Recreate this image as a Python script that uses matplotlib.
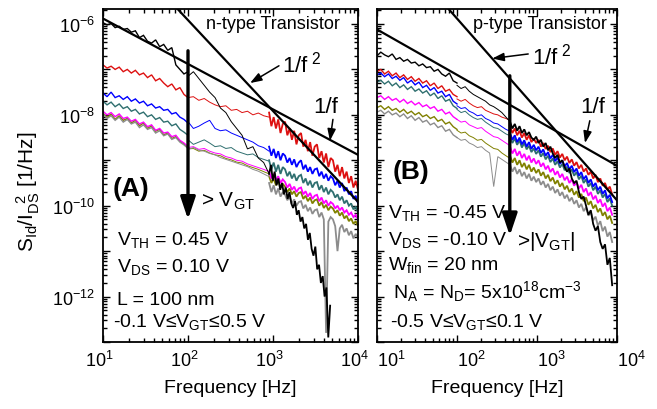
import numpy as np
import matplotlib
matplotlib.use('Agg')
import matplotlib.pyplot as plt
from matplotlib.ticker import LogLocator, FixedLocator, FuncFormatter, NullFormatter
from matplotlib.transforms import ScaledTranslation

plt.rcParams['font.family'] = ['Liberation Sans', 'DejaVu Sans']
plt.rcParams['mathtext.fontset'] = 'custom'
plt.rcParams['mathtext.rm'] = 'Liberation Sans'
plt.rcParams['mathtext.it'] = 'Liberation Sans:italic'
plt.rcParams['mathtext.bf'] = 'Liberation Sans:bold'
plt.rcParams['mathtext.default'] = 'regular'

# ---------------- data (log10 of S_Id/I_DS^2) ----------------
# frequency ranges of the three measured segments [Hz]
A_LO, A_MID, A_HI, A_HI_BLACK = (10, 100), (100, 900), (900, 10000), (900, 4700)
B_LO, B_MID, B_HI = (10, 100), (100, 460), (460, 8700)

colors = {'black': '#000000', 'red': '#dd1010', 'blue': '#0000ff', 'teal': '#2f6f6f',
          'magenta': '#ff00ff', 'olive': '#808000', 'gray': '#8c8c8c'}

# ---- panel A (n-type) ----
a_black_lo = [-5.97, -6.02, -5.99, -6.08, -6.05, -6.12, -6.10, -6.18, -6.15, -6.30, -6.25, -6.38, -6.42, -6.35, -6.50, -6.45, -6.58, -6.52, -6.90, -7.00, -7.10, -7.05]
a_black_mid = [-7.15, -7.05, -7.20, -7.35, -7.50, -7.62, -7.85, -7.95, -8.15, -8.30, -8.45, -8.75, -8.70, -8.95, -9.05, -9.30]
a_black_hi = [-9.30, -9.10, -9.45, -9.25, -9.55, -9.40, -9.65, -9.50, -9.75, -9.60, -9.85, -9.70, -9.95, -10.05, -9.90, -10.20, -10.10, -10.35, -10.25, -10.50, -10.40, -10.75, -10.60, -10.95, -11.10, -10.90, -11.40, -11.30, -11.70, -11.55, -12.00, -11.80, -12.90, -12.20]

a_red_lo = [-6.90, -6.97, -6.93, -7.00, -6.95, -7.05, -7.00, -7.08, -7.02, -7.12, -7.08, -7.18, -7.12, -7.25, -7.20, -7.30, -7.38, -7.32, -7.45, -7.40, -7.55, -7.62]
a_red_mid = [-7.62, -7.60, -7.68, -7.64, -7.72, -7.78, -7.82, -7.80, -7.90, -7.88, -7.95, -7.92, -8.00, -7.96, -8.02, -8.05]
a_red_hi = [-7.95, -8.25, -8.05, -8.30, -8.10, -8.40, -8.20, -8.15, -8.45, -8.30, -8.55, -8.35, -8.65, -8.45, -8.40, -8.70, -8.55, -8.80, -8.60, -8.90, -8.70, -8.65, -8.95, -8.80, -9.05, -8.85, -9.15, -8.95, -9.00, -9.25, -9.10, -9.35, -9.15, -9.40, -9.25, -9.50, -9.35, -9.60, -9.45, -9.65]

a_blue_lo = [-7.52, -7.60, -7.50, -7.62, -7.58, -7.66, -7.60, -7.70, -7.65, -7.74, -7.70, -7.80, -7.76, -7.85, -7.82, -7.90, -7.88, -7.98, -7.95, -8.05, -8.10, -8.18]
a_blue_mid = [-8.15, -8.30, -8.25, -8.18, -8.12, -8.30, -8.35, -8.33, -8.40, -8.45, -8.50, -8.55, -8.60, -8.68, -8.72, -8.80]
a_blue_hi = [-8.70, -8.90, -8.75, -8.95, -8.80, -9.00, -8.85, -8.90, -9.05, -8.95, -9.10, -8.98, -9.15, -9.05, -9.00, -9.20, -9.10, -9.25, -9.15, -9.30, -9.20, -9.18, -9.35, -9.25, -9.40, -9.30, -9.45, -9.35, -9.40, -9.55, -9.45, -9.60, -9.50, -9.68, -9.60, -9.75, -9.68, -9.85, -9.78, -9.95]

a_teal_lo = [-7.70, -7.78, -7.72, -7.82, -7.76, -7.86, -7.82, -7.92, -7.88, -7.98, -7.94, -8.04, -8.00, -8.10, -8.06, -8.16, -8.14, -8.24, -8.20, -8.32, -8.38, -8.45]
a_teal_mid = [-8.55, -8.65, -8.60, -8.55, -8.62, -8.70, -8.68, -8.74, -8.72, -8.80, -8.84, -8.88, -8.86, -8.94, -8.98, -9.02]
a_teal_hi = [-9.00, -9.20, -9.05, -9.25, -9.10, -9.30, -9.15, -9.20, -9.35, -9.25, -9.40, -9.30, -9.45, -9.35, -9.32, -9.50, -9.40, -9.55, -9.45, -9.60, -9.50, -9.48, -9.65, -9.55, -9.70, -9.60, -9.75, -9.65, -9.70, -9.82, -9.75, -9.88, -9.80, -9.95, -9.88, -10.00, -9.95, -10.08, -10.02, -10.15]

a_magenta_lo = [-7.92, -8.00, -7.95, -8.04, -7.98, -8.08, -8.05, -8.14, -8.10, -8.20, -8.16, -8.26, -8.22, -8.34, -8.30, -8.40, -8.38, -8.48, -8.45, -8.56, -8.62, -8.70]
a_magenta_mid = [-8.72, -8.70, -8.76, -8.74, -8.80, -8.84, -8.86, -8.92, -8.95, -9.00, -9.02, -9.08, -9.12, -9.16, -9.20, -9.25]
a_magenta_hi = [-9.25, -9.40, -9.30, -9.45, -9.35, -9.50, -9.42, -9.48, -9.60, -9.52, -9.65, -9.58, -9.70, -9.62, -9.60, -9.75, -9.68, -9.80, -9.72, -9.85, -9.78, -9.76, -9.90, -9.82, -9.95, -9.88, -10.00, -9.92, -9.96, -10.06, -10.00, -10.10, -10.04, -10.15, -10.10, -10.20, -10.15, -10.25, -10.20, -10.30]

a_olive_lo = [-7.96, -8.06, -7.98, -8.10, -8.02, -8.12, -8.08, -8.18, -8.12, -8.24, -8.18, -8.30, -8.24, -8.36, -8.32, -8.44, -8.40, -8.52, -8.48, -8.58, -8.64, -8.72]
a_olive_mid = [-8.75, -8.74, -8.80, -8.78, -8.84, -8.88, -8.90, -8.96, -8.99, -9.04, -9.06, -9.12, -9.16, -9.20, -9.25, -9.30]
a_olive_hi = [-9.35, -9.50, -9.40, -9.55, -9.45, -9.60, -9.52, -9.58, -9.70, -9.62, -9.75, -9.68, -9.80, -9.72, -9.70, -9.85, -9.78, -9.90, -9.82, -9.95, -9.88, -9.86, -10.00, -9.92, -10.05, -9.98, -10.10, -10.02, -10.06, -10.16, -10.10, -10.22, -10.15, -10.28, -10.22, -10.34, -10.28, -10.40, -10.34, -10.45]

a_gray_lo = [-7.98, -8.08, -8.02, -8.12, -8.05, -8.16, -8.10, -8.20, -8.16, -8.28, -8.22, -8.32, -8.28, -8.40, -8.35, -8.46, -8.42, -8.54, -8.50, -8.60, -8.66, -8.74]
a_gray_mid = [-8.76, -8.72, -8.78, -8.80, -8.85, -8.88, -8.94, -8.98, -9.02, -9.06, -9.10, -9.14, -9.20, -9.24, -9.30, -9.36]
a_gray_hi = [-9.50, -9.70, -9.55, -9.75, -9.62, -9.80, -9.70, -9.76, -9.88, -9.80, -9.95, -9.86, -10.00, -9.92, -9.90, -10.06, -9.98, -10.12, -10.04, -10.18, -10.10, -10.08, -10.25, -10.15, -10.30, -12.80, -10.35, -10.25, -10.30, -10.45, -11.00, -10.50, -10.42, -10.58, -10.50, -10.65, -10.56, -10.72, -10.62, -10.70]

# ---- panel B (p-type) ----
b_black_lo = [-6.70, -6.62, -6.68, -6.72, -6.66, -6.78, -6.74, -6.82, -6.78, -6.86, -6.84, -6.92, -6.88, -6.96, -6.94, -7.04, -7.00, -7.10, -7.15, -7.08, -7.25, -7.30]
b_black_mid = [-7.35, -7.42, -7.38, -7.48, -7.55, -7.60, -7.65, -7.70, -7.78, -7.82, -7.88, -7.95, -8.05, -8.15]
b_black_hi = [-8.15, -8.30, -8.20, -8.35, -8.25, -8.40, -8.32, -8.45, -8.38, -8.50, -8.55, -8.48, -8.62, -8.55, -8.70, -8.62, -8.78, -8.70, -8.85, -8.95, -8.88, -9.05, -9.00, -9.15, -9.25, -9.18, -9.40, -9.50, -9.45, -9.70, -9.85, -9.80, -10.00, -10.20, -10.10, -10.40, -10.55, -10.45, -10.80, -10.95, -10.85, -11.30, -11.15, -11.75]

b_red_lo = [-7.05, -7.00, -7.10, -7.04, -7.14, -7.08, -7.18, -7.12, -7.22, -7.16, -7.26, -7.20, -7.30, -7.25, -7.36, -7.30, -7.42, -7.36, -7.48, -7.44, -7.55, -7.60]
b_red_mid = [-7.65, -7.70, -7.66, -7.74, -7.80, -7.84, -7.82, -7.90, -7.94, -7.98, -8.00, -8.05, -8.08, -8.12]
b_red_hi = [-8.25, -8.40, -8.30, -8.45, -8.35, -8.50, -8.40, -8.55, -8.45, -8.60, -8.52, -8.62, -8.55, -8.70, -8.62, -8.75, -8.68, -8.82, -8.74, -8.88, -8.80, -8.94, -8.86, -9.00, -8.92, -9.06, -8.98, -9.12, -9.04, -9.18, -9.10, -9.25, -9.18, -9.32, -9.25, -9.40, -9.32, -9.48, -9.40, -9.56, -9.50, -9.65, -9.58, -9.75]

b_blue_lo = [-7.12, -7.08, -7.16, -7.10, -7.20, -7.15, -7.24, -7.18, -7.30, -7.24, -7.34, -7.28, -7.40, -7.35, -7.46, -7.40, -7.52, -7.48, -7.60, -7.55, -7.70, -7.76]
b_blue_mid = [-7.80, -7.86, -7.84, -7.92, -7.96, -8.02, -8.00, -8.08, -8.12, -8.18, -8.20, -8.26, -8.32, -8.36]
b_blue_hi = [-8.40, -8.55, -8.45, -8.60, -8.50, -8.65, -8.56, -8.70, -8.60, -8.75, -8.66, -8.78, -8.70, -8.84, -8.76, -8.90, -8.82, -8.96, -8.88, -9.02, -8.94, -9.08, -9.00, -9.14, -9.06, -9.20, -9.12, -9.26, -9.18, -9.34, -9.26, -9.42, -9.34, -9.50, -9.42, -9.58, -9.50, -9.66, -9.58, -9.74, -9.66, -9.84, -9.76, -9.92]

b_teal_lo = [-7.28, -7.24, -7.32, -7.26, -7.36, -7.30, -7.40, -7.34, -7.44, -7.38, -7.48, -7.43, -7.52, -7.47, -7.58, -7.52, -7.64, -7.58, -7.70, -7.66, -7.80, -7.86]
b_teal_mid = [-7.88, -7.95, -7.92, -8.00, -8.06, -8.10, -8.08, -8.16, -8.22, -8.28, -8.30, -8.36, -8.42, -8.46]
b_teal_hi = [-8.48, -8.62, -8.52, -8.66, -8.56, -8.72, -8.62, -8.76, -8.68, -8.82, -8.74, -8.86, -8.78, -8.92, -8.84, -8.98, -8.90, -9.04, -8.96, -9.10, -9.02, -9.16, -9.08, -9.22, -9.14, -9.28, -9.20, -9.34, -9.26, -9.42, -9.34, -9.50, -9.42, -9.58, -9.50, -9.66, -9.58, -9.74, -9.66, -9.82, -9.74, -9.92, -9.84, -10.00]

b_magenta_lo = [-7.62, -7.58, -7.66, -7.60, -7.68, -7.64, -7.72, -7.66, -7.75, -7.70, -7.78, -7.73, -7.82, -7.78, -7.86, -7.82, -7.92, -7.88, -7.98, -7.94, -8.04, -8.10]
b_magenta_mid = [-8.10, -8.16, -8.14, -8.22, -8.26, -8.30, -8.28, -8.36, -8.42, -8.48, -8.50, -8.56, -8.62, -8.68]
b_magenta_hi = [-8.70, -8.85, -8.75, -8.90, -8.80, -8.95, -8.86, -9.00, -8.90, -9.05, -8.96, -9.08, -9.00, -9.14, -9.06, -9.20, -9.12, -9.26, -9.18, -9.32, -9.24, -9.38, -9.30, -9.44, -9.36, -9.50, -9.42, -9.56, -9.48, -9.62, -9.54, -9.70, -9.62, -9.78, -9.70, -9.86, -9.78, -9.94, -9.86, -10.02, -9.94, -10.12, -10.04, -10.20]

b_olive_lo = [-7.84, -7.80, -7.88, -7.82, -7.90, -7.86, -7.94, -7.88, -7.97, -7.92, -8.00, -7.95, -8.04, -8.00, -8.08, -8.04, -8.14, -8.10, -8.20, -8.16, -8.26, -8.32]
b_olive_mid = [-8.34, -8.40, -8.38, -8.46, -8.50, -8.56, -8.54, -8.62, -8.68, -8.74, -8.76, -8.84, -8.90, -8.96]
b_olive_hi = [-8.90, -9.05, -8.95, -9.10, -9.00, -9.15, -9.06, -9.20, -9.10, -9.25, -9.16, -9.28, -9.20, -9.34, -9.26, -9.40, -9.32, -9.46, -9.38, -9.52, -9.44, -9.58, -9.50, -9.64, -9.56, -9.70, -9.62, -9.76, -9.68, -9.82, -9.74, -9.90, -9.82, -9.98, -9.90, -10.06, -9.98, -10.14, -10.06, -10.22, -10.14, -10.30, -10.22, -10.38]

b_gray_lo = [-7.94, -7.90, -7.98, -7.92, -8.00, -7.96, -8.04, -7.98, -8.08, -8.02, -8.12, -8.06, -8.16, -8.12, -8.22, -8.18, -8.28, -8.24, -8.36, -8.32, -8.44, -8.50]
b_gray_mid = [-8.50, -8.56, -8.54, -8.62, -8.66, -8.72, -8.70, -8.78, -8.84, -9.58, -8.92, -8.98, -9.04, -9.10]
b_gray_hi = [-9.10, -9.25, -9.15, -9.30, -9.20, -9.35, -9.26, -9.40, -9.30, -9.45, -9.36, -9.48, -9.40, -9.54, -9.46, -9.60, -9.52, -9.66, -9.58, -9.72, -9.64, -9.78, -9.70, -9.84, -9.76, -9.90, -9.82, -9.96, -9.88, -10.04, -9.96, -10.12, -10.04, -10.22, -10.14, -10.32, -10.24, -10.44, -10.34, -10.56, -10.46, -10.68, -10.58, -10.80]

# guide-line amplitudes:  S = K1/f  and  S = K2/f^2
A_K1, A_K2 = 10**-4.88, 10**-1.915
B_K1, B_K2 = 10**-5.12, 10**-1.88

panelA = [
    ('olive', a_olive_lo, a_olive_mid, a_olive_hi, A_HI),
    ('magenta', a_magenta_lo, a_magenta_mid, a_magenta_hi, A_HI),
    ('gray', a_gray_lo, a_gray_mid, a_gray_hi, A_HI),
    ('teal', a_teal_lo, a_teal_mid, a_teal_hi, A_HI),
    ('blue', a_blue_lo, a_blue_mid, a_blue_hi, A_HI),
    ('red', a_red_lo, a_red_mid, a_red_hi, A_HI),
    ('black', a_black_lo, a_black_mid, a_black_hi, A_HI_BLACK),
]
panelB = [
    ('olive', b_olive_lo, b_olive_mid, b_olive_hi, B_HI),
    ('magenta', b_magenta_lo, b_magenta_mid, b_magenta_hi, B_HI),
    ('gray', b_gray_lo, b_gray_mid, b_gray_hi, B_HI),
    ('teal', b_teal_lo, b_teal_mid, b_teal_hi, B_HI),
    ('blue', b_blue_lo, b_blue_mid, b_blue_hi, B_HI),
    ('red', b_red_lo, b_red_mid, b_red_hi, B_HI),
    ('black', b_black_lo, b_black_mid, b_black_hi, B_HI),
]

# ---------------- figure ----------------
W, H = 657, 410
fig = plt.figure(figsize=(W / 100, H / 100), dpi=100)
axA = fig.add_axes([103 / W, 1 - 343 / H, 255 / W, 333 / H])
axB = fig.add_axes([377 / W, 1 - 343 / H, 240 / W, 333 / H])

YLIM = (1e-13, 10**-5.67)
FS = 14
TFS = 13


def seg(ax, rng, vals, color, lw):
    f = np.geomspace(rng[0], rng[1], len(vals))
    ax.plot(f, 10**np.asarray(vals), color=color, lw=lw, solid_joinstyle='miter')


def style(ax, show_y, label_dx):
    ax.set_xscale('log')
    ax.set_yscale('log')
    ax.set_xlim(10, 1e4)
    ax.set_ylim(*YLIM)
    ax.xaxis.set_major_locator(FixedLocator([1e1, 1e2, 1e3, 1e4]))
    ax.xaxis.set_minor_locator(LogLocator(base=10, subs=np.arange(2, 10)))
    ax.xaxis.set_major_formatter(FuncFormatter(lambda v, p: r'$10^{%d}$' % round(np.log10(v))))
    ax.xaxis.set_minor_formatter(NullFormatter())
    ax.yaxis.set_major_locator(FixedLocator([10.0**k for k in range(-13, -5)]))
    ax.yaxis.set_minor_locator(LogLocator(base=10, subs=np.arange(2, 10), numticks=20))
    if show_y:
        ax.yaxis.set_major_formatter(FuncFormatter(
            lambda v, p: (r'$10^{%d}$' % round(np.log10(v))) if round(np.log10(v)) % 2 == 0 else ''))
    else:
        ax.yaxis.set_major_formatter(NullFormatter())
    ax.yaxis.set_minor_formatter(NullFormatter())
    ax.tick_params(which='both', direction='in', top=True, right=True, width=1.0)
    ax.tick_params(which='major', length=5, labelsize=TFS, pad=6)
    ax.tick_params(which='minor', length=3)
    for s in ax.spines.values():
        s.set_linewidth(1.3)
    ax.set_xlabel('Frequency [Hz]', fontsize=FS, labelpad=6)
    off = ScaledTranslation(label_dx / 100, 0, fig.dpi_scale_trans)
    for lab in ax.xaxis.get_majorticklabels():
        lab.set_transform(lab.get_transform() + off)


for ax, data, rngs in [(axA, panelA, (A_LO, A_MID)), (axB, panelB, (B_LO, B_MID))]:
    for name, lo, mid, hi, hirng in data:
        c = colors[name]
        seg(ax, rngs[0], lo, c, 1.0)
        seg(ax, rngs[1], mid, c, 0.7)
        seg(ax, hirng, hi, c, 1.3)

fgrid = np.geomspace(10, 1e4, 50)
axA.plot(fgrid, A_K1 / fgrid, color='k', lw=1.6)
axA.plot(fgrid, A_K2 / fgrid**2, color='k', lw=1.6)
axB.plot(fgrid, B_K1 / fgrid, color='k', lw=1.6)
axB.plot(fgrid, B_K2 / fgrid**2, color='k', lw=1.6)

style(axA, True, -4)
style(axB, False, 14)

fig.text(28 / W, 1 - 192 / H, r'$S_{Id}/I_{DS}^{\;\;\;2}$ [1/Hz]', rotation=90,
         ha='center', va='center', fontsize=15)

big = dict(arrowstyle='-|>,head_width=0.32,head_length=0.95', lw=2.4, color='k',
           shrinkA=0, shrinkB=0, mutation_scale=14)
small = dict(arrowstyle='-|>,head_width=0.25,head_length=0.7', lw=1.1, color='k',
             shrinkA=0, shrinkB=0, mutation_scale=10)

# ---- panel A annotations ----
axA.annotate('', xy=(100, 10**-10.30), xytext=(100, 10**-6.59), arrowprops=big)
axA.annotate('', xy=(10**2.73, 10**-7.30), xytext=(10**3.07, 10**-6.92), arrowprops=small)
axA.annotate('', xy=(10**3.67, 10**-8.57), xytext=(10**3.705, 10**-8.10), arrowprops=small)
axA.text(0.929, 0.955, 'n-type Transistor', transform=axA.transAxes, ha='right', va='center', fontsize=13)
axA.text(0.702, 0.811, r'1/f$^{\ 2}$', transform=axA.transAxes, ha='left', va='baseline', fontsize=16)
axA.text(0.824, 0.690, '1/f', transform=axA.transAxes, ha='left', va='baseline', fontsize=16)
axA.text(0.039, 0.462, '(A)', transform=axA.transAxes, ha='left', va='center', fontsize=19, fontweight='bold')
axA.text(0.385, 0.408, r'> V$_{GT}$', transform=axA.transAxes, ha='left', va='baseline', fontsize=FS + 1)
axA.text(0.055, 0.294, r'V$_{TH}$ = 0.45 V', transform=axA.transAxes, ha='left', va='baseline', fontsize=FS)
axA.text(0.055, 0.213, r'V$_{DS}$ = 0.10 V', transform=axA.transAxes, ha='left', va='baseline', fontsize=FS)
axA.text(0.055, 0.114, 'L = 100 nm', transform=axA.transAxes, ha='left', va='baseline', fontsize=FS)
axA.text(0.040, 0.048, r'-0.1 V≤V$_{GT}$≤0.5 V', transform=axA.transAxes, ha='left', va='baseline', fontsize=FS)

# ---- panel B annotations ----
axB.annotate('', xy=(10**2.66, 10**-10.66), xytext=(10**2.66, 10**-7.14), arrowprops=big)
axB.annotate('', xy=(10**2.44, 10**-6.76), xytext=(10**2.89, 10**-6.66), arrowprops=small)
axB.annotate('', xy=(10**3.60, 10**-8.62), xytext=(10**3.66, 10**-8.13), arrowprops=small)
axB.text(0.958, 0.955, 'p-type Transistor', transform=axB.transAxes, ha='right', va='center', fontsize=13)
axB.text(0.646, 0.835, r'1/f$^{\ 2}$', transform=axB.transAxes, ha='left', va='baseline', fontsize=16)
axB.text(0.846, 0.690, '1/f', transform=axB.transAxes, ha='left', va='baseline', fontsize=16)
axB.text(0.067, 0.514, '(B)', transform=axB.transAxes, ha='left', va='center', fontsize=19, fontweight='bold')
axB.text(0.583, 0.288, r'>|V$_{GT}$|', transform=axB.transAxes, ha='left', va='baseline', fontsize=FS + 1)
axB.text(0.046, 0.375, r'V$_{TH}$ = -0.45 V', transform=axB.transAxes, ha='left', va='baseline', fontsize=FS)
axB.text(0.046, 0.294, r'V$_{DS}$ = -0.10 V', transform=axB.transAxes, ha='left', va='baseline', fontsize=FS)
axB.text(0.046, 0.219, r'W$_{fin}$ = 20 nm', transform=axB.transAxes, ha='left', va='baseline', fontsize=FS)
axB.text(0.067, 0.135, r'N$_A$ = N$_D$= 5x10$^{18}$cm$^{-3}$', transform=axB.transAxes, ha='left', va='baseline', fontsize=FS)
axB.text(0.054, 0.048, r'-0.5 V≤V$_{GT}$≤0.1 V', transform=axB.transAxes, ha='left', va='baseline', fontsize=FS)

fig.savefig('out.png', dpi=100)
